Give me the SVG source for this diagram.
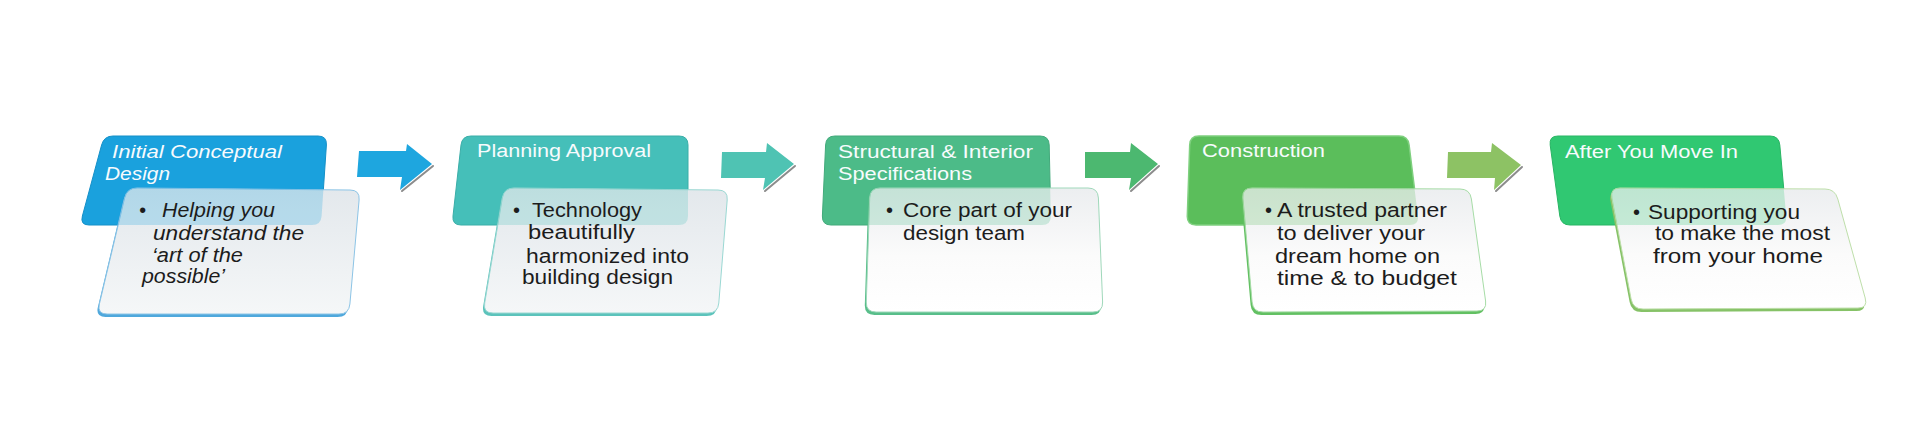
<svg xmlns="http://www.w3.org/2000/svg" xmlns:xlink="http://www.w3.org/1999/xlink" width="1920" height="436" viewBox="0 0 1920 436">
<style>
.ht{font-family:"Liberation Sans",Arial,sans-serif;font-size:18px;fill:#F7FBFD;}
.dt{font-family:"Liberation Sans",Arial,sans-serif;font-size:20px;fill:#1C1C1C;}
.it{font-style:italic;}
.tint{opacity:0.24;}
.shadow{fill:none;stroke:#8C8C8C;stroke-width:2;stroke-linecap:round;}
</style>
<defs>
<linearGradient id="dgA" x1="0" y1="0" x2="0" y2="1">
<stop offset="0" stop-color="#E3E8EC"/>
<stop offset="1" stop-color="#F5F7F8"/>
</linearGradient>
<linearGradient id="dgB" x1="0" y1="0" x2="0" y2="1">
<stop offset="0" stop-color="#ECEEF0"/>
<stop offset="0.55" stop-color="#FBFBFB"/>
<stop offset="1" stop-color="#FFFFFF"/>
</linearGradient>
<clipPath id="c1"><use xlink:href="#d1"/></clipPath>
<clipPath id="c2"><use xlink:href="#d2"/></clipPath>
<clipPath id="c3"><use xlink:href="#d3"/></clipPath>
<clipPath id="c4"><use xlink:href="#d4"/></clipPath>
<clipPath id="c5"><use xlink:href="#d5"/></clipPath>
</defs>
<rect width="1920" height="436" fill="#FFFFFF"/>

<g id="connectors">
<polygon points="359,151 406,151 407,144 432,164 400,190 402,177 357,177" fill="#1EA6DF"/>
<polyline class="shadow" points="433,166 402,191"/>
<polygon points="722,152 766,152 767,143 794,164 763,190 765,178 721,178" fill="#4FC3B3"/>
<polyline class="shadow" points="795,166 765,191"/>
<polygon points="1085,152 1130,152 1131,143 1158,164 1129,190 1131,178 1085,178" fill="#4CB870"/>
<polyline class="shadow" points="1159,166 1131,191"/>
<polygon points="1448,152 1491,152 1492,143 1521,165 1494,190 1495,178 1447,178" fill="#8DC264"/>
<polyline class="shadow" points="1522,167 1496,191"/>
</g>

<g id="node1">
<path id="h1" d="M 113,136 L 318,136 Q 327,136 326.4,145 L 321.6,216 Q 321,225 312,225 L 89,225 Q 80,225 82.4,216 L 101.6,145 Q 104,136 113,136 Z" fill="#1AA1DD" stroke="#1590C8" stroke-width="1"/>
<text class="ht it" x="112" y="158" textLength="170" lengthAdjust="spacingAndGlyphs">Initial Conceptual</text>
<text class="ht it" x="105" y="180" textLength="65" lengthAdjust="spacingAndGlyphs">Design</text>
<path d="M 137,188 L 350,190 Q 360,190 359.1,200 L 349.9,304 Q 349,314 339,314 L 107,314 Q 97,314 99.4,304 L 124.6,198 Q 127,188 137,188 Z" fill="#4FA8DC" transform="translate(-1.5,3)"/>
<path id="d1" d="M 137,188 L 350,190 Q 360,190 359.1,200 L 349.9,304 Q 349,314 339,314 L 107,314 Q 97,314 99.4,304 L 124.6,198 Q 127,188 137,188 Z" fill="url(#dgA)" stroke="#8CC4E6" stroke-width="1"/>
<path class="tint" clip-path="url(#c1)" d="M 113,136 L 318,136 Q 327,136 326.4,145 L 321.6,216 Q 321,225 312,225 L 89,225 Q 80,225 82.4,216 L 101.6,145 Q 104,136 113,136 Z" fill="#1AA1DD"/>
<text class="dt it" x="139" y="217">•</text>
<text class="dt it" x="162" y="217" textLength="113" lengthAdjust="spacingAndGlyphs">Helping you</text>
<text class="dt it" x="153" y="240" textLength="151" lengthAdjust="spacingAndGlyphs">understand the</text>
<text class="dt it" x="152" y="262" textLength="91" lengthAdjust="spacingAndGlyphs">‘art of the</text>
<text class="dt it" x="142" y="283" textLength="83" lengthAdjust="spacingAndGlyphs">possible’</text>
</g>

<g id="node2">
<path id="h2" d="M 471,136 L 679,136 Q 688,136 688,145 L 688,216 Q 688,225 679,225 L 461,225 Q 452,225 453,216 L 461,145 Q 462,136 471,136 Z" fill="#45BFB9" stroke="#3AAEA8" stroke-width="1"/>
<text class="ht" x="477" y="157" textLength="174" lengthAdjust="spacingAndGlyphs">Planning Approval</text>
<path d="M 514,188 L 718,190 Q 728,190 727.2,200 L 718.8,303 Q 718,313 708,313 L 493,313 Q 483,313 484.7,303 L 502.3,198 Q 504,188 514,188 Z" fill="#5CC3BB" transform="translate(-1.5,3)"/>
<path id="d2" d="M 514,188 L 718,190 Q 728,190 727.2,200 L 718.8,303 Q 718,313 708,313 L 493,313 Q 483,313 484.7,303 L 502.3,198 Q 504,188 514,188 Z" fill="url(#dgA)" stroke="#9AD8D3" stroke-width="1"/>
<path class="tint" clip-path="url(#c2)" d="M 471,136 L 679,136 Q 688,136 688,145 L 688,216 Q 688,225 679,225 L 461,225 Q 452,225 453,216 L 461,145 Q 462,136 471,136 Z" fill="#45BFB9"/>
<text class="dt" x="513" y="217">•</text>
<text class="dt" x="532" y="217" textLength="110" lengthAdjust="spacingAndGlyphs">Technology</text>
<text class="dt" x="528" y="239" textLength="107" lengthAdjust="spacingAndGlyphs">beautifully</text>
<text class="dt" x="526" y="263" textLength="163" lengthAdjust="spacingAndGlyphs">harmonized into</text>
<text class="dt" x="522" y="284" textLength="151" lengthAdjust="spacingAndGlyphs">building design</text>
</g>

<g id="node3">
<path id="h3" d="M 835,136 L 1040,136 Q 1049,136 1049.2,145 L 1050.8,216 Q 1051,225 1042,225 L 831,225 Q 822,225 822.4,216 L 825.6,145 Q 826,136 835,136 Z" fill="#4CBB88" stroke="#42AA7B" stroke-width="1"/>
<text class="ht" x="838" y="158" textLength="195" lengthAdjust="spacingAndGlyphs">Structural &amp; Interior</text>
<text class="ht" x="838" y="180" textLength="134" lengthAdjust="spacingAndGlyphs">Specifications</text>
<path d="M 880,188 L 1088,188 Q 1098,188 1098.4,198 L 1102.6,302 Q 1103,312 1093,312 L 876,312 Q 866,312 866.3,302 L 869.7,198 Q 870,188 880,188 Z" fill="#58BE8A" transform="translate(-1.5,3)"/>
<path id="d3" d="M 880,188 L 1088,188 Q 1098,188 1098.4,198 L 1102.6,302 Q 1103,312 1093,312 L 876,312 Q 866,312 866.3,302 L 869.7,198 Q 870,188 880,188 Z" fill="url(#dgB)" stroke="#9FD8BA" stroke-width="1"/>
<path class="tint" clip-path="url(#c3)" d="M 835,136 L 1040,136 Q 1049,136 1049.2,145 L 1050.8,216 Q 1051,225 1042,225 L 831,225 Q 822,225 822.4,216 L 825.6,145 Q 826,136 835,136 Z" fill="#4CBB88"/>
<text class="dt" x="886" y="217">•</text>
<text class="dt" x="903" y="217" textLength="169" lengthAdjust="spacingAndGlyphs">Core part of your</text>
<text class="dt" x="903" y="240" textLength="122" lengthAdjust="spacingAndGlyphs">design team</text>
</g>

<g id="node4">
<path id="h4" d="M 1199,136 L 1399,136 Q 1408,136 1409.1,145 L 1417.9,216 Q 1419,225 1410,225 L 1196,225 Q 1187,225 1187.3,216 L 1189.7,145 Q 1190,136 1199,136 Z" fill="#5BBE5B" stroke="#7FD07F" stroke-width="1.5"/>
<text class="ht" x="1202" y="157" textLength="123" lengthAdjust="spacingAndGlyphs">Construction</text>
<path d="M 1252,188 L 1460,189 Q 1470,189 1471.4,199 L 1485.6,301 Q 1487,311 1477,311 L 1263,312 Q 1253,312 1252.1,302 L 1242.9,198 Q 1242,188 1252,188 Z" fill="#62C062" transform="translate(-1.5,3)"/>
<path id="d4" d="M 1252,188 L 1460,189 Q 1470,189 1471.4,199 L 1485.6,301 Q 1487,311 1477,311 L 1263,312 Q 1253,312 1252.1,302 L 1242.9,198 Q 1242,188 1252,188 Z" fill="url(#dgB)" stroke="#A6DCA6" stroke-width="1"/>
<path class="tint" clip-path="url(#c4)" d="M 1199,136 L 1399,136 Q 1408,136 1409.1,145 L 1417.9,216 Q 1419,225 1410,225 L 1196,225 Q 1187,225 1187.3,216 L 1189.7,145 Q 1190,136 1199,136 Z" fill="#5BBE5B"/>
<text class="dt" x="1265" y="217">•</text>
<text class="dt" x="1277" y="217" textLength="170" lengthAdjust="spacingAndGlyphs">A trusted partner</text>
<text class="dt" x="1277" y="240" textLength="148" lengthAdjust="spacingAndGlyphs">to deliver your</text>
<text class="dt" x="1275" y="263" textLength="165" lengthAdjust="spacingAndGlyphs">dream home on</text>
<text class="dt" x="1277" y="285" textLength="180" lengthAdjust="spacingAndGlyphs">time &amp; to budget</text>
</g>

<g id="node5">
<path id="h5" d="M 1558,136 L 1770,136 Q 1779,136 1779.8,145 L 1786.2,216 Q 1787,225 1778,225 L 1570,225 Q 1561,225 1559.8,216 L 1550.2,145 Q 1549,136 1558,136 Z" fill="#30C872" stroke="#29B564" stroke-width="1"/>
<text class="ht" x="1565" y="158" textLength="173" lengthAdjust="spacingAndGlyphs">After You Move In</text>
<path d="M 1620,188 L 1825,189 Q 1835,189 1837.8,199 L 1865.2,298 Q 1868,308 1858,308 L 1643,309 Q 1633,309 1631.1,299 L 1611.9,198 Q 1610,188 1620,188 Z" fill="#86C267" transform="translate(-1.5,3)"/>
<path id="d5" d="M 1620,188 L 1825,189 Q 1835,189 1837.8,199 L 1865.2,298 Q 1868,308 1858,308 L 1643,309 Q 1633,309 1631.1,299 L 1611.9,198 Q 1610,188 1620,188 Z" fill="url(#dgB)" stroke="#BEDFAA" stroke-width="1"/>
<path class="tint" clip-path="url(#c5)" d="M 1558,136 L 1770,136 Q 1779,136 1779.8,145 L 1786.2,216 Q 1787,225 1778,225 L 1570,225 Q 1561,225 1559.8,216 L 1550.2,145 Q 1549,136 1558,136 Z" fill="#30C872"/>
<text class="dt" x="1633" y="219">•</text>
<text class="dt" x="1648" y="219" textLength="152" lengthAdjust="spacingAndGlyphs">Supporting you</text>
<text class="dt" x="1655" y="240" textLength="175" lengthAdjust="spacingAndGlyphs">to make the most</text>
<text class="dt" x="1653" y="263" textLength="170" lengthAdjust="spacingAndGlyphs">from your home</text>
</g>
</svg>
